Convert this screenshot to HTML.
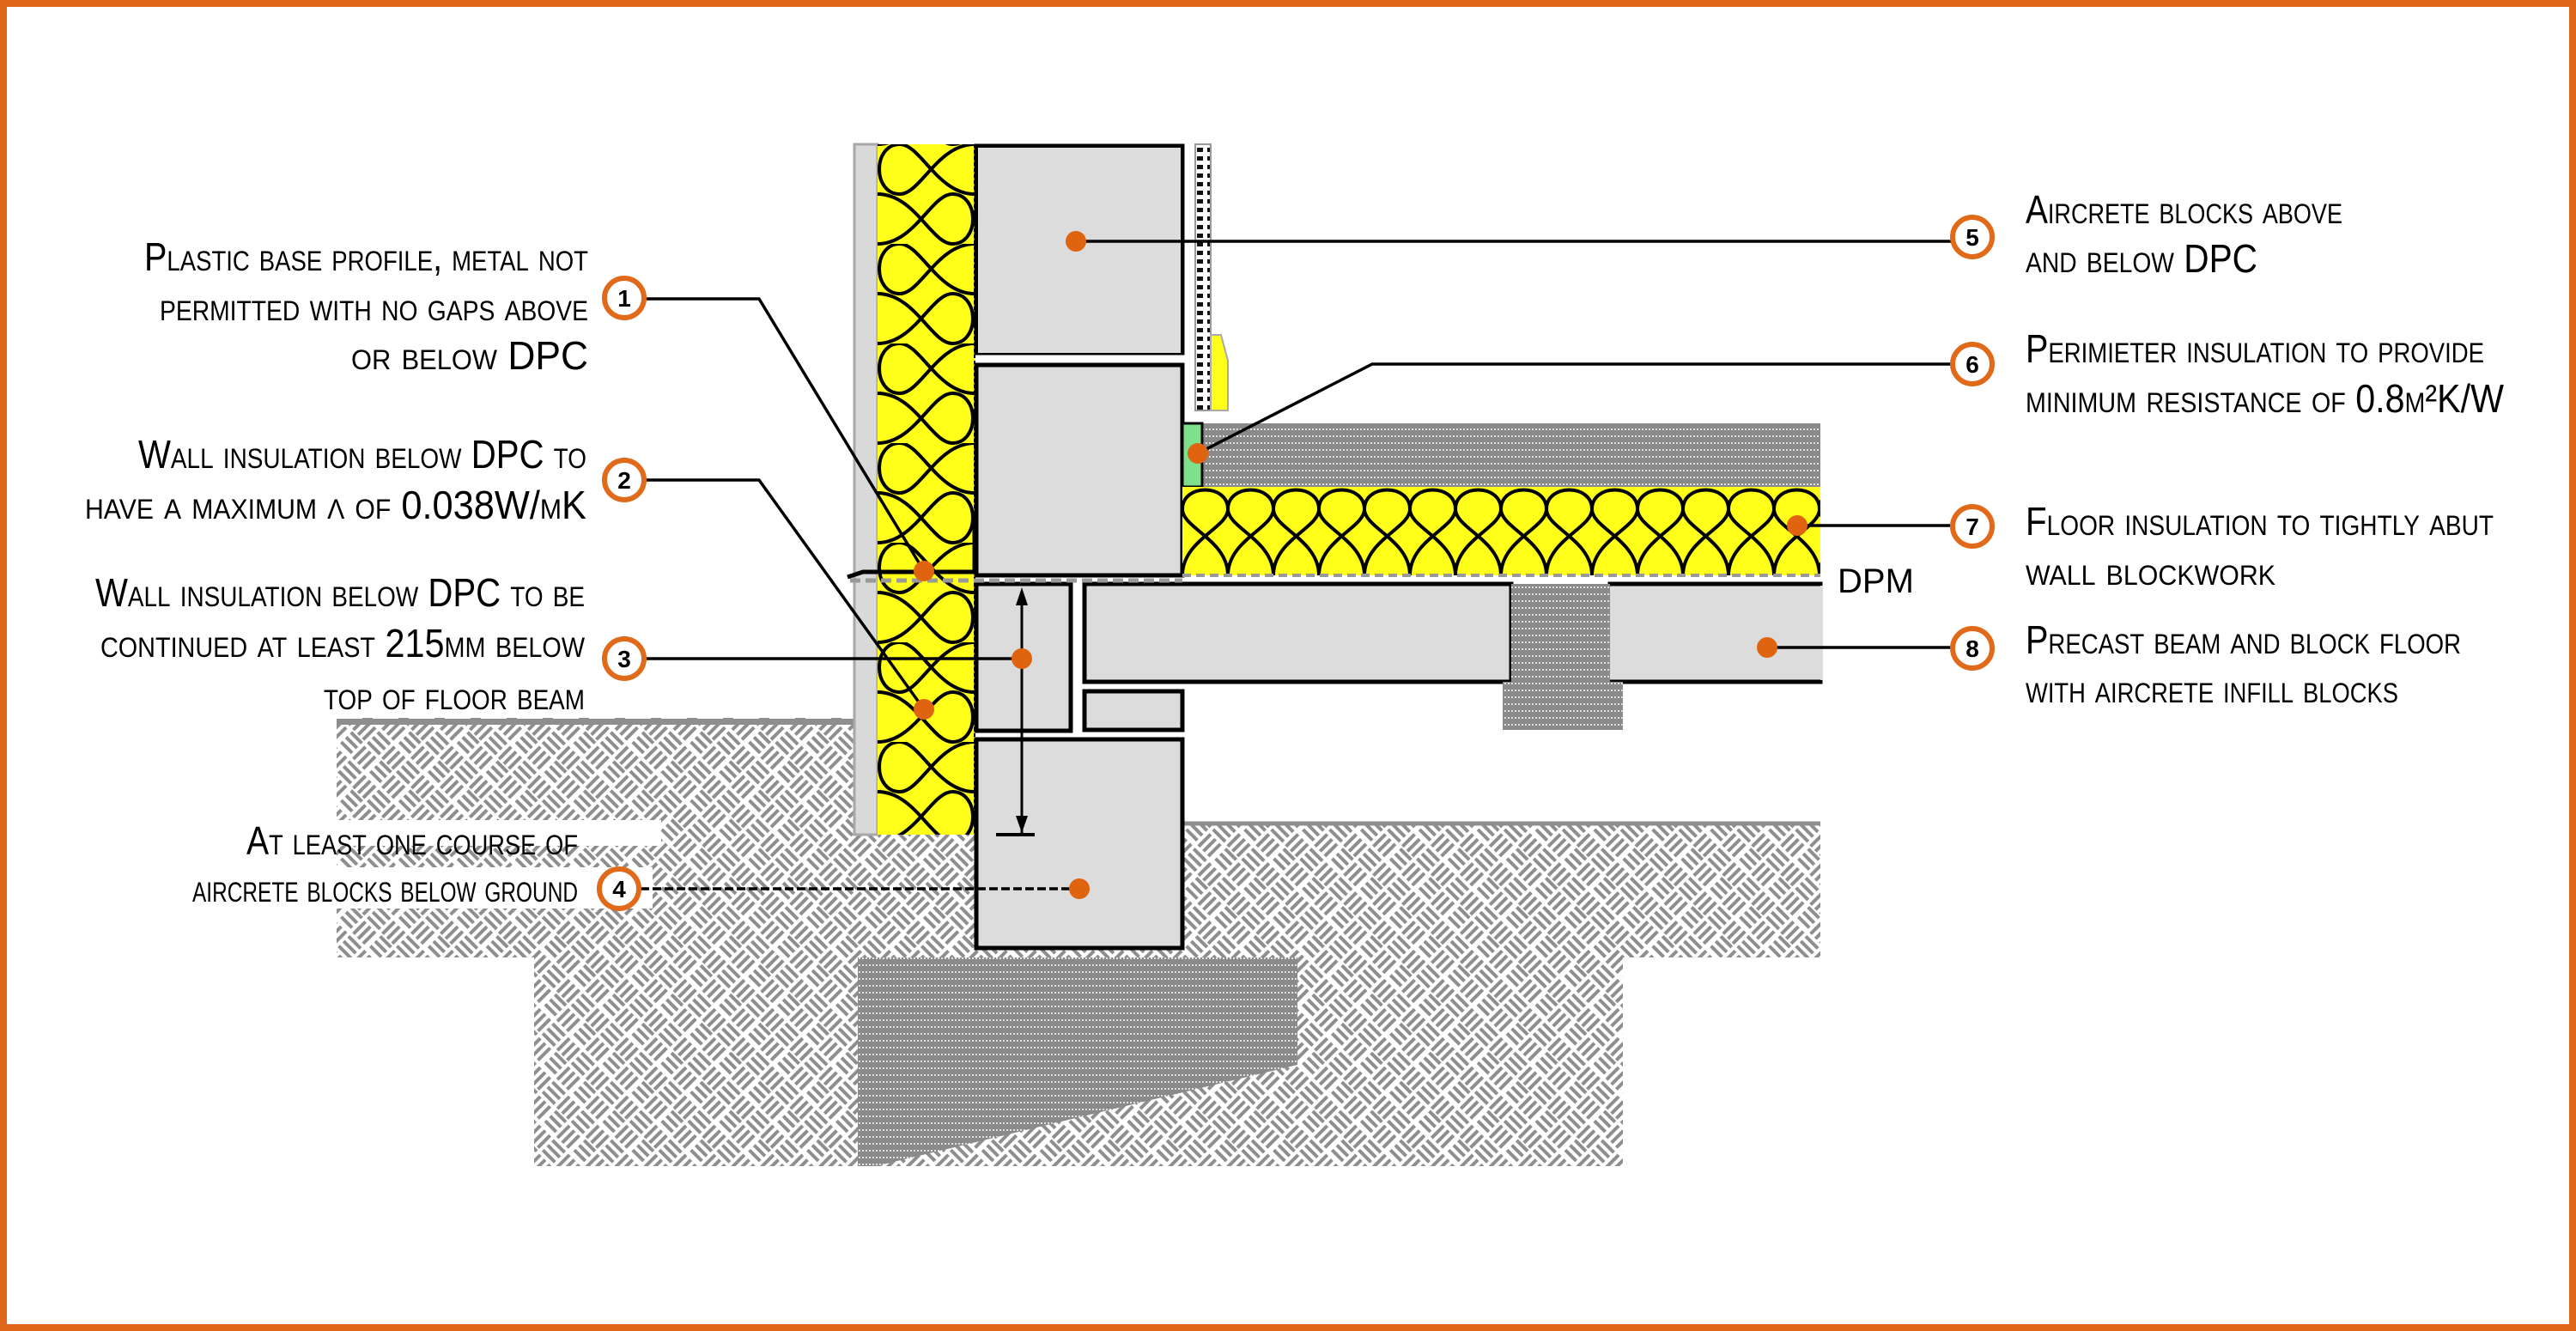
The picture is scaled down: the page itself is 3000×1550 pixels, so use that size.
<!DOCTYPE html>
<html><head><meta charset="utf-8">
<style>
html,body{margin:0;padding:0;background:#fff;}
svg{display:block;}
text{font-family:"Liberation Sans",sans-serif;font-variant:small-caps;fill:#000;}
</style></head>
<body>
<svg width="3000" height="1550" viewBox="0 0 3000 1550" xmlns="http://www.w3.org/2000/svg">
<defs>
  <pattern id="weave" width="48" height="48" patternUnits="userSpaceOnUse" patternTransform="rotate(45)">
    <g stroke="#8e8e8e" stroke-width="4">
      <line x1="2" y1="4" x2="22" y2="4"/><line x1="2" y1="12" x2="22" y2="12"/><line x1="2" y1="20" x2="22" y2="20"/>
      <line x1="28" y1="26" x2="46" y2="26"/><line x1="28" y1="34" x2="46" y2="34"/><line x1="28" y1="42" x2="46" y2="42"/>
      <line x1="28" y1="2" x2="28" y2="22"/><line x1="36" y1="2" x2="36" y2="22"/><line x1="44" y1="2" x2="44" y2="22"/>
      <line x1="4" y1="26" x2="4" y2="46"/><line x1="12" y1="26" x2="12" y2="46"/><line x1="20" y1="26" x2="20" y2="46"/>
    </g>
  </pattern>
  <pattern id="conc" width="12" height="8" patternUnits="userSpaceOnUse">
    <rect width="12" height="8" fill="#8a8a8a"/>
    <line x1="0" y1="4" x2="12" y2="4" stroke="#fff" stroke-width="1.5" stroke-dasharray="2 2"/>
  </pattern>
  <pattern id="wallins" x="1022" y="168" width="113" height="116" patternUnits="userSpaceOnUse">
    <rect width="113" height="116" fill="#ffff1a"/>
    <g fill="none" stroke="#000" stroke-width="4">
      <path d="M113,0 C70,0 50,58 26,58 C-6,58 -6,0 26,0 C50,0 70,58 113,58"/>
      <path d="M0,58 C43,58 63,116 87,116 C119,116 119,58 87,58 C63,58 43,116 0,116"/>
      <path d="M0,-58 C43,-58 63,0 87,0 C119,0 119,-58 87,-58 C63,-58 43,0 0,0"/>
    </g>
  </pattern>
  <pattern id="floorins" x="1377" y="567" width="53" height="103" patternUnits="userSpaceOnUse">
    <rect width="53" height="103" fill="#ffff1a"/>
    <g fill="none" stroke="#000" stroke-width="4">
      <path d="M0,103 C0,62 53,48 53,26 C53,-4 0,-4 0,26 C0,48 53,62 53,103"/>
    </g>
  </pattern>
  <pattern id="dots" width="12" height="10" patternUnits="userSpaceOnUse">
    <rect width="12" height="10" fill="#fff"/>
    <rect x="2" y="2" width="7" height="5" fill="#111"/>
  </pattern>
</defs>

<rect x="4" y="4" width="2992" height="1542" fill="#fff" stroke="#e0661a" stroke-width="8"/>

<!-- ground -->
<path d="M392,842 L995,842 L995,972 L1136,972 L1136,1104 L1377,1104 L1377,957 L2120,957 L2120,1115 L1890,1115 L1890,1358 L622,1358 L622,1115 L392,1115 Z" fill="url(#weave)"/>
<line x1="1377" y1="959" x2="2120" y2="959" stroke="#8e8e8e" stroke-width="5"/>
<line x1="392" y1="840" x2="995" y2="840" stroke="#8e8e8e" stroke-width="8"/>
<line x1="392" y1="836" x2="995" y2="836" stroke="#fff" stroke-width="2" stroke-dasharray="30 12"/>
<path d="M999,1115 L1511,1115 L1511,1240 L1020,1358 L999,1358 Z" fill="url(#conc)"/>

<rect x="270" y="955" width="500" height="30" fill="#fff"/>
<rect x="210" y="1010" width="550" height="48" fill="#fff"/>

<rect x="995" y="168" width="27" height="804" fill="#d9d9d9" stroke="#a8a8a8" stroke-width="3"/>
<rect x="1022" y="168" width="113" height="804" fill="url(#wallins)"/>
<line x1="1135" y1="168" x2="1135" y2="972" stroke="#000" stroke-width="2" stroke-dasharray="4 3"/>

<g fill="#dcdcdc" stroke="#000" stroke-width="5">
  <rect x="1137" y="170" width="240" height="241"/>
  <rect x="1137" y="425" width="240" height="245"/>
  <rect x="1137" y="680" width="110" height="171"/>
  <rect x="1137" y="861" width="240" height="243"/>
  <rect x="1263" y="680" width="497" height="114"/>
  <rect x="1263" y="805" width="114" height="45"/>
  <rect x="1875" y="680" width="245" height="114"/>
</g>
<rect x="1139" y="172" width="236" height="239" fill="#dcdcdc"/>
<rect x="1875" y="682" width="248" height="110" fill="#dcdcdc"/>
<line x1="1875" y1="680" x2="2120" y2="680" stroke="#000" stroke-width="5"/>
<line x1="1875" y1="794" x2="2120" y2="794" stroke="#000" stroke-width="5"/>
<rect x="1760" y="680" width="115" height="114" fill="url(#conc)"/>
<rect x="1750" y="794" width="140" height="56" fill="url(#conc)"/>

<rect x="1400" y="493" width="720" height="74" fill="url(#conc)"/>
<rect x="1377" y="493" width="23" height="74" fill="#7ee08a" stroke="#000" stroke-width="3"/>
<rect x="1377" y="567" width="743" height="103" fill="url(#floorins)"/>
<line x1="1377" y1="670" x2="2120" y2="670" stroke="#999" stroke-width="4" stroke-dasharray="10 6"/>

<rect x="1392" y="168" width="18" height="310" fill="url(#dots)" stroke="#999" stroke-width="2"/>
<path d="M1410,390 L1422,390 L1430,420 L1430,478 L1410,478 Z" fill="#ffff1a" stroke="#aaa" stroke-width="2"/>

<line x1="990" y1="676" x2="1377" y2="676" stroke="#999" stroke-width="5" stroke-dasharray="12 6"/>
<path d="M987,672 L1005,666 L1135,666 L1135,610" fill="none" stroke="#000" stroke-width="5"/>

<line x1="1190" y1="700" x2="1190" y2="972" stroke="#000" stroke-width="3"/>
<path d="M1183,705 L1190,684 L1197,705 Z" fill="#000"/>
<path d="M1183,950 L1190,970 L1197,950 Z" fill="#000"/>
<line x1="1160" y1="972" x2="1205" y2="972" stroke="#000" stroke-width="4"/>

<g stroke="#000" stroke-width="3.5" fill="none">
  <polyline points="752,348 884,348 1076,665"/>
  <polyline points="752,559 884,559 1076,826"/>
  <line x1="752" y1="767" x2="1190" y2="767"/>
  <line x1="746" y1="1035" x2="1257" y2="1035" stroke-dasharray="10 4"/>
  <line x1="1253" y1="281" x2="2272" y2="281"/>
  <polyline points="1395,528 1598,424 2272,424" />
  <line x1="2093" y1="612" x2="2272" y2="612"/>
  <line x1="2058" y1="754" x2="2272" y2="754"/>
</g>

<g fill="#e06410">
  <circle cx="1076" cy="665" r="12"/><circle cx="1076" cy="826" r="12"/>
  <circle cx="1190" cy="767" r="12"/><circle cx="1257" cy="1035" r="12"/>
  <circle cx="1253" cy="281" r="12"/><circle cx="1395" cy="528" r="12"/>
  <circle cx="2093" cy="612" r="12"/><circle cx="2058" cy="754" r="12"/>
</g>

<g fill="#fff" stroke="#e06a1a" stroke-width="6">
  <circle cx="727" cy="347" r="23"/><circle cx="727" cy="559" r="23"/>
  <circle cx="727" cy="767" r="23"/><circle cx="721" cy="1035" r="23"/>
  <circle cx="2297" cy="276" r="23"/><circle cx="2297" cy="424" r="23"/>
  <circle cx="2297" cy="613" r="23"/><circle cx="2297" cy="755" r="23"/>
</g>
<g style="font-variant:normal;font-weight:bold;font-size:28px" text-anchor="middle">
  <text x="727" y="357">1</text><text x="727" y="569">2</text>
  <text x="727" y="777">3</text><text x="721" y="1045">4</text>
  <text x="2297" y="286">5</text><text x="2297" y="434">6</text>
  <text x="2297" y="623">7</text><text x="2297" y="765">8</text>
</g>

<g font-size="46" text-anchor="end">
  <text x="685" y="315" textLength="517" lengthAdjust="spacingAndGlyphs">Plastic base profile, metal not</text>
  <text x="685" y="373" textLength="499" lengthAdjust="spacingAndGlyphs">permitted with no gaps above</text>
  <text x="685" y="430" textLength="276" lengthAdjust="spacingAndGlyphs">or below DPC</text>
  <text x="683" y="545" textLength="522" lengthAdjust="spacingAndGlyphs">Wall insulation below DPC to</text>
  <text x="683" y="604" textLength="584" lengthAdjust="spacingAndGlyphs">have a maximum λ of 0.038W/mK</text>
  <text x="681" y="706" textLength="570" lengthAdjust="spacingAndGlyphs">Wall insulation below DPC to be</text>
  <text x="681" y="765" textLength="564" lengthAdjust="spacingAndGlyphs">continued at least 215mm below</text>
  <text x="681" y="826" textLength="304" lengthAdjust="spacingAndGlyphs">top of floor beam</text>
  <text x="673" y="995" textLength="386" lengthAdjust="spacingAndGlyphs">At least one course of</text>
  <text x="673" y="1050" textLength="449" lengthAdjust="spacingAndGlyphs">aircrete blocks below ground</text>
</g>
<g font-size="46">
  <text x="2359" y="260" textLength="369" lengthAdjust="spacingAndGlyphs">Aircrete blocks above</text>
  <text x="2359" y="317" textLength="270" lengthAdjust="spacingAndGlyphs">and below DPC</text>
  <text x="2359" y="422" textLength="534" lengthAdjust="spacingAndGlyphs">Perimieter insulation to provide</text>
  <text x="2359" y="480" textLength="557" lengthAdjust="spacingAndGlyphs">minimum resistance of 0.8m²K/W</text>
  <text x="2359" y="623" textLength="545" lengthAdjust="spacingAndGlyphs">Floor insulation to tightly abut</text>
  <text x="2359" y="681" textLength="291" lengthAdjust="spacingAndGlyphs">wall blockwork</text>
  <text x="2359" y="761" textLength="507" lengthAdjust="spacingAndGlyphs">Precast beam and block floor</text>
  <text x="2359" y="818" textLength="434" lengthAdjust="spacingAndGlyphs">with aircrete infill blocks</text>
</g>
<text x="2140" y="690" font-size="40" style="font-variant:normal">DPM</text>
</svg>
</body></html>
